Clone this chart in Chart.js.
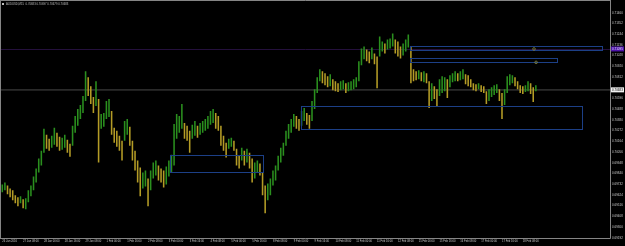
<!DOCTYPE html>
<html><head><meta charset="utf-8">
<script src="https://cdn.jsdelivr.net/npm/chart.js@4.4.1/dist/chart.umd.min.js"></script>
<style>html,body{margin:0;padding:0;background:#000;overflow:hidden}#wrap{width:625px;height:246px}</style>
</head><body><div id="wrap"><canvas id="c" width="625" height="246" style="width:625px;height:246px"></canvas></div>
<script>
const symbolTitle = 'AUDUSD,M15  0.70683 0.70697 0.70679 0.70683';
const timeLabels = ['26 Jan 2016','27 Jan 08:00','28 Jan 00:00','28 Jan 16:00','29 Jan 08:00','1 Feb 00:00','1 Feb 16:00','2 Feb 08:00','3 Feb 00:00','3 Feb 16:00','4 Feb 08:00','5 Feb 00:00','5 Feb 16:00','8 Feb 08:00','9 Feb 00:00','9 Feb 16:00','10 Feb 08:00','11 Feb 00:00','11 Feb 16:00','12 Feb 08:00','15 Feb 00:00','15 Feb 16:00','16 Feb 08:00','17 Feb 00:00','17 Feb 16:00','18 Feb 08:00'];
const barsPerLabel = 8;
const totalSlots = 234;
const priceTicks = [0.71460,0.71352,0.71244,0.71136,0.71028,0.70920,0.70812,0.70596,0.70488,0.70380,0.70272,0.70164,0.70056,0.69948,0.69840,0.69732,0.69624,0.69516,0.69408,0.69300,0.69192];
const priceMin = 0.6919, priceMax = 0.7155;
const bidPrice = 0.70683;
const alertPrice = 0.71095;

const highs = [0.6973,0.6975,0.6972,0.6969,0.6967,0.6962,0.6960,0.6961,0.6958,0.6959,
0.6967,0.6972,0.6981,0.6989,0.6999,0.7007,0.7029,0.7023,0.7019,0.7022,
0.7030,0.7025,0.7021,0.7020,0.7023,0.7018,0.7014,0.7032,0.7042,0.7049,
0.7053,0.7062,0.7087,0.7081,0.7072,0.7061,0.7077,0.7059,0.7044,0.7045,
0.7057,0.7059,0.7047,0.7030,0.7027,0.7022,0.7017,0.7037,0.7039,0.7031,
0.7017,0.7007,0.6997,0.6990,0.6985,0.6987,0.6979,0.6987,0.6995,0.6997,
0.6992,0.6989,0.6987,0.6991,0.6997,0.7003,0.7034,0.7044,0.7042,0.7054,
0.7035,0.7032,0.7027,0.7033,0.7037,0.7032,0.7035,0.7037,0.7039,0.7042,
0.7047,0.7049,0.7045,0.7042,0.7032,0.7022,0.7015,0.7019,0.7020,0.7017,
0.7009,0.7002,0.7010,0.7007,0.7009,0.7005,0.6999,0.6995,0.6997,0.6994,
0.6985,0.6972,0.6974,0.6979,0.6987,0.6992,0.7002,0.7010,0.7015,0.7027,
0.7034,0.7039,0.7044,0.7042,0.7039,0.7047,0.7050,0.7045,0.7043,0.7057,
0.7069,0.7081,0.7089,0.7087,0.7085,0.7082,0.7084,0.7079,0.7077,0.7075,
0.7077,0.7078,0.7075,0.7076,0.7077,0.7079,0.7081,0.7097,0.7110,0.7112,
0.7109,0.7107,0.7111,0.7105,0.7102,0.7122,0.7117,0.7115,0.7119,0.7120,
0.7125,0.7119,0.7117,0.7112,0.7115,0.7119,0.7124,0.7112,0.7089,0.7087,
0.7088,0.7086,0.7087,0.7085,0.7077,0.7075,0.7072,0.7069,0.7079,0.7082,
0.7081,0.7079,0.7083,0.7085,0.7087,0.7085,0.7087,0.7089,0.7084,0.7083,
0.7079,0.7075,0.7074,0.7075,0.7073,0.7072,0.7067,0.7069,0.7071,0.7073,
0.7074,0.7069,0.7065,0.7069,0.7082,0.7084,0.7083,0.7081,0.7077,0.7073,
0.7072,0.7073,0.7077,0.7075,0.7071,0.7073];

const lows = [0.6965,0.6967,0.6963,0.6960,0.6957,0.6954,0.6951,0.6954,0.6949,0.6948,
0.6955,0.6961,0.6967,0.6975,0.6985,0.6992,0.7005,0.7009,0.7007,0.7010,
0.7013,0.7011,0.7007,0.7008,0.7010,0.7005,0.7001,0.7012,0.7025,0.7032,
0.7039,0.7045,0.7057,0.7062,0.7054,0.7045,0.7052,0.6995,0.7029,0.7031,
0.7039,0.7041,0.7023,0.7015,0.7011,0.7007,0.6997,0.7017,0.7023,0.7012,
0.6997,0.6987,0.6975,0.6961,0.6969,0.6971,0.6951,0.6967,0.6979,0.6982,
0.6977,0.6975,0.6970,0.6973,0.6981,0.6985,0.6992,0.7019,0.7025,0.7029,
0.7019,0.7017,0.7005,0.7019,0.7022,0.7020,0.7023,0.7025,0.7027,0.7029,
0.7033,0.7035,0.7029,0.7027,0.7012,0.7007,0.7000,0.7009,0.7011,0.7007,
0.6992,0.6989,0.6997,0.6992,0.6995,0.6989,0.6975,0.6979,0.6985,0.6982,
0.6962,0.6944,0.6957,0.6962,0.6972,0.6977,0.6987,0.6995,0.7002,0.7012,
0.7019,0.7025,0.7031,0.7029,0.7027,0.7032,0.7037,0.7033,0.7029,0.7037,
0.7049,0.7065,0.7077,0.7075,0.7073,0.7071,0.7072,0.7068,0.7067,0.7066,
0.7068,0.7069,0.7065,0.7067,0.7068,0.7069,0.7071,0.7077,0.7093,0.7099,
0.7097,0.7095,0.7099,0.7094,0.7070,0.7102,0.7107,0.7105,0.7109,0.7110,
0.7112,0.7105,0.7102,0.7100,0.7103,0.7107,0.7111,0.7075,0.7077,0.7078,
0.7079,0.7077,0.7076,0.7075,0.7050,0.7057,0.7059,0.7052,0.7062,0.7065,
0.7067,0.7060,0.7071,0.7076,0.7077,0.7077,0.7078,0.7079,0.7074,0.7072,
0.7071,0.7068,0.7067,0.7069,0.7066,0.7065,0.7054,0.7057,0.7061,0.7063,
0.7065,0.7057,0.7039,0.7053,0.7065,0.7073,0.7075,0.7072,0.7069,0.7065,
0.7064,0.7066,0.7067,0.7064,0.7056,0.7067];

// drawn zones: [fromBar, toBar, topPrice, bottomPrice]
const zoneFrom = [64.4, 114.8, 156.6, 156.6];
const zoneTo = [100.2, 222.7, 230.4, 213.1];
const zoneTop = [0.7003, 0.7052, 0.7112, 0.7100];
const zoneBottom = [0.6986, 0.7029, 0.7108, 0.7096];
// small alert markers: bar position, price
const markerBar = [204.3, 205.1];
const markerPrice = [0.71095, 0.7096];

const UP = '#2a8f1e', DOWN = '#b49c26';
const n = Math.min(highs.length, lows.length);
const ranges = [], colors = [];
for (let i = 0; i < n; i++) {
  ranges.push([lows[i], highs[i]]);
  const mid = (highs[i] + lows[i]) / 2;
  const prev = i > 0 ? (highs[i-1] + lows[i-1]) / 2 : mid;
  colors.push(mid >= prev ? UP : DOWN);
}
const slots = [];
for (let i = 0; i < totalSlots; i++) slots.push(i);

const overlay = {
  id: 'overlay',
  beforeDatasetsDraw(chart) {
    const {ctx, chartArea: a, scales: {y}} = chart;
    ctx.save();
    let py = Math.round(y.getPixelForValue(alertPrice)) + 0.5;
    ctx.strokeStyle = '#24103c'; ctx.lineWidth = 1;
    ctx.beginPath(); ctx.moveTo(a.left, py); ctx.lineTo(a.right, py); ctx.stroke();
    py = y.getPixelForValue(bidPrice);
    ctx.strokeStyle = '#2a2a2a'; ctx.lineWidth = 1.6;
    ctx.beginPath(); ctx.moveTo(a.left, py); ctx.lineTo(a.right, py); ctx.stroke();
    ctx.restore();
  },
  afterDatasetsDraw(chart) {
    const {ctx, scales: {x, y}} = chart;
    ctx.save();
    ctx.strokeStyle = '#1c3f86'; ctx.lineWidth = 1;
    for (let i = 0; i < zoneFrom.length; i++) {
      const x0 = Math.round(x.getPixelForValue(zoneFrom[i])) + 0.5;
      const x1 = Math.round(x.getPixelForValue(zoneTo[i])) + 0.5;
      const y0 = Math.round(y.getPixelForValue(zoneTop[i])) + 0.5;
      const y1 = Math.round(y.getPixelForValue(zoneBottom[i])) + 0.5;
      ctx.strokeRect(x0, y0, x1 - x0, y1 - y0);
    }
    ctx.strokeStyle = '#8c8a3c'; ctx.lineWidth = 0.8;
    for (let i = 0; i < markerBar.length; i++) {
      ctx.beginPath();
      ctx.arc(x.getPixelForValue(markerBar[i]), y.getPixelForValue(markerPrice[i]), 1.3, 0, Math.PI * 2);
      ctx.stroke();
    }
    ctx.restore();
  },
  afterDraw(chart) {
    const {ctx, chartArea: a, scales: {y}} = chart;
    ctx.save();
    ctx.strokeStyle = '#858585'; ctx.lineWidth = 1;
    ctx.beginPath();
    ctx.moveTo(0, 0.5); ctx.lineTo(a.right + 0.5, 0.5);
    ctx.moveTo(0.5, 0); ctx.lineTo(0.5, a.bottom + 0.5);
    ctx.moveTo(a.right + 0.5, 0); ctx.lineTo(a.right + 0.5, a.bottom + 0.5);
    ctx.moveTo(0, a.bottom + 0.5); ctx.lineTo(a.right + 0.5, a.bottom + 0.5);
    ctx.stroke();
    // header
    ctx.fillStyle = '#bdbdbd';
    ctx.fillRect(2, 3, 2, 2);
    ctx.font = '2.8px "Liberation Sans"';
    ctx.textBaseline = 'middle'; ctx.textAlign = 'left';
    ctx.fillText(symbolTitle, 6, 4.2);
    // axis price labels
    const lab = (price, bg, fg) => {
      const py = y.getPixelForValue(price);
      ctx.fillStyle = bg; ctx.fillRect(a.right + 1, py - 2.5, 13, 5);
      ctx.fillStyle = fg; ctx.fillText(price.toFixed(5), a.right + 2, py + 0.2);
    };
    ctx.font = '3px "Liberation Sans"';
    lab(alertPrice, '#4c12a8', '#e8e0ff');
    lab(bidPrice, '#f2f2f2', '#000000');
    ctx.restore();
  }
};

new Chart(document.getElementById('c'), {
  type: 'bar',
  data: {
    labels: slots,
    datasets: [{
      data: ranges,
      backgroundColor: colors,
      borderWidth: 0,
      barPercentage: 0.6,
      categoryPercentage: 1
    }]
  },
  options: {
    responsive: false,
    animation: false,
    devicePixelRatio: 1,
    layout: {padding: {left: 1, top: 2, right: 0, bottom: 0}},
    plugins: {legend: {display: false}, tooltip: {enabled: false}},
    scales: {
      x: {
        type: 'category',
        offset: true,
        grid: {display: false, drawTicks: false},
        border: {display: false},
        ticks: {
          autoSkip: false, maxRotation: 0, minRotation: 0, align: 'start', padding: 2,
          color: '#c8c8c8', font: {size: 2.7, family: 'Liberation Sans'},
          callback: (v, i) => (i % barsPerLabel === 0 && i / barsPerLabel < timeLabels.length) ? timeLabels[i / barsPerLabel] : ''
        },
        afterFit: s => { s.height = 8; }
      },
      y: {
        position: 'right',
        min: priceMin, max: priceMax,
        grid: {display: false, drawTicks: false},
        border: {display: false},
        afterBuildTicks: s => { s.ticks = priceTicks.map(v => ({value: v})); },
        ticks: {
          padding: 2, color: '#c8c8c8', font: {size: 3, family: 'Liberation Sans'},
          callback: v => Number(v).toFixed(5)
        },
        afterFit: s => { s.width = 15; }
      }
    }
  },
  plugins: [overlay]
});
</script>
</body></html>
